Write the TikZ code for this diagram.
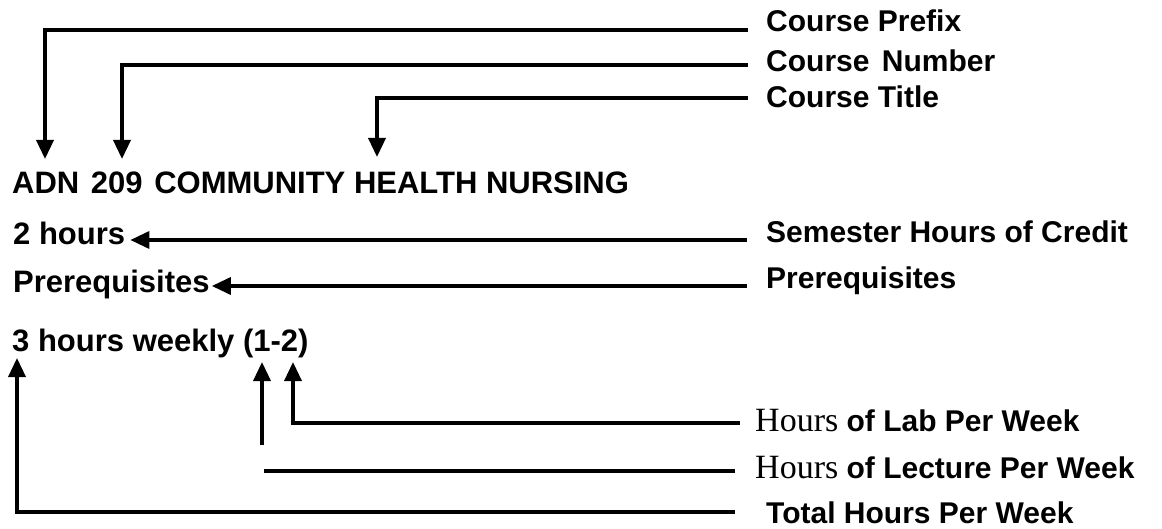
\documentclass[tikz,border=0pt]{standalone}
\usepackage{fontspec}
\setmainfont{Liberation Sans}
\newfontfamily\timesfont{Liberation Serif}
\usetikzlibrary{arrows.meta, positioning}

\begin{document}
\begin{tikzpicture}[x=1pt, y=-1pt,
        entry/.style={anchor=base west, inner sep=0pt, font=\fontsize{31}{34}\selectfont\bfseries},
        lbl/.style={anchor=base west, inner sep=0pt, font=\fontsize{30}{34}\selectfont\bfseries},
        arc/.style={-{Triangle[length=19pt, width=17pt]}, line width=3.5pt},
        rule/.style={line width=3.5pt}
        ]
        \newcommand{\hrsword}{{\timesfont\mdseries\fontsize{34}{36}\selectfont Hours}}
        \useasboundingbox (0,0) rectangle (1162,529);

        % course entry as printed
        \node[entry] (title) at (12,194) {ADN\hspace{3pt} 209\hspace{3pt} COMMUNITY HEALTH NURSING};
        \node[entry] (hrs) at (13,245) {2 hours};
        \node[entry] (pre) at (13,293) {Prerequisites};
        \node[entry] (wk) at (12,352) {3 hours weekly (1-2)};

        % legend on the right
        \node[lbl] (prefix) at (766,32) {Course Prefix};
        \node[lbl] (number) at (766,72) {Course\hspace{4pt} Number};
        \node[lbl] (ctitle) at (766,108) {Course Title};
        \node[lbl] (credit) at (766,243) {Semester Hours of Credit};
        \node[lbl] (prereq) at (766,289) {Prerequisites};
        \node[lbl] (lab) at (755,431) {\hrsword{} of Lab Per Week};
        \node[lbl] (lect) at (755,478) {\hrsword{} of Lecture Per Week};
        \node[lbl] (total) at (766,523) {Total Hours Per Week};

        % ends of the leader lines
        \coordinate (prefix-e) at (748,30);
        \coordinate (number-e) at (748,65);
        \coordinate (ctitle-e) at (748,98);
        \coordinate (credit-e) at (747,240);
        \coordinate (prereq-e) at (747,286);
        \coordinate (lab-e) at (740,423);
        \coordinate (lect-e) at (735,471);
        \coordinate (total-e) at (735,512);

        % arrow tips
        \coordinate (prefix-t) at (45,159);
        \coordinate (number-t) at (122,159);
        \coordinate (ctitle-t) at (377,157);
        \coordinate (lab-t) at (293,362);
        \coordinate (lect-t) at (262,362);
        \coordinate (total-t) at (17,358);
        \coordinate (lect-v) at (262,445);
        \coordinate (lect-h) at (264,471);

        \draw[arc] (prefix-e) -| (prefix-t);
        \draw[arc] (number-e) -| (number-t);
        \draw[arc] (ctitle-e) -| (ctitle-t);
        \draw[arc, shorten >=5pt] (credit-e) -- (credit-e -| hrs.east);
        \draw[arc, shorten >=2pt] (prereq-e) -- (prereq-e -| pre.east);

        \draw[arc] (lab-e) -| (lab-t);
        \draw[rule] (lect-e) -- (lect-h);
        \draw[arc] (lect-v) -- (lect-t);
        \draw[arc] (total-e) -| (total-t);
\end{tikzpicture}
\end{document}
